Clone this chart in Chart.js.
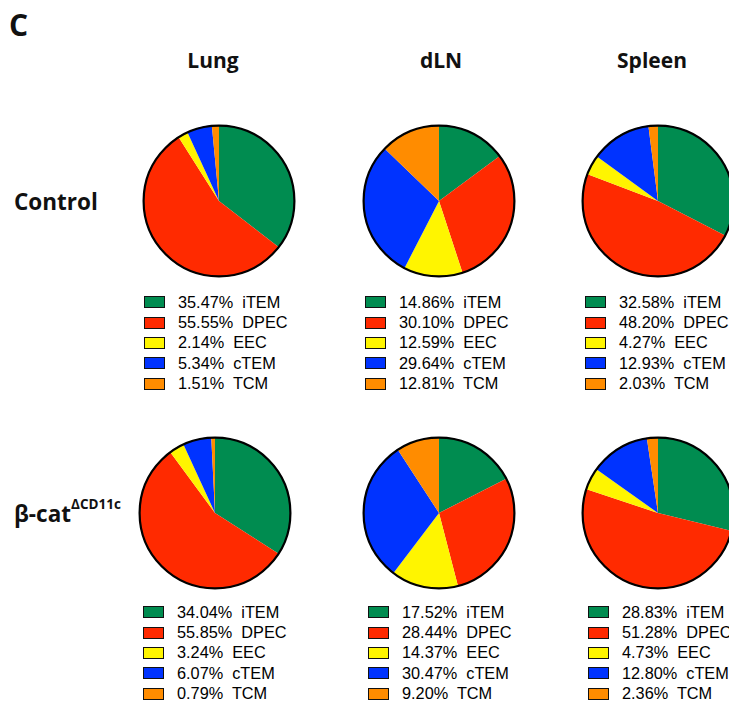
<!DOCTYPE html>
<html>
<head>
<meta charset="utf-8">
<script src="https://cdn.jsdelivr.net/npm/chart.js@4"></script>
<style>
    html, body { margin: 0; padding: 0; background: #fff; }
    body { width: 729px; height: 706px; position: relative; overflow: hidden; }
    .head { position: absolute; font-family: "Open Sans", "Noto Sans", sans-serif; font-weight: 700; color: #111; white-space: nowrap; }
    .panel { position: absolute; font-size: 30px; left: 9px; top: 4px; }
    .tissue { font-size: 21px; transform: translateX(-50%); top: 46px; }
    .group { font-size: 22.5px; left: 14px; }
    .group sup { font-size: 13.5px; position: relative; top: -5px; }
    canvas.pie { position: absolute; }
    .legend { position: absolute; font-family: "Liberation Sans", Arial, sans-serif; font-size: 16.3px; color: #000; }
    .legend .row { height: 20.4px; display: flex; align-items: center; white-space: pre; }
    .legend .box { width: 19px; height: 10px; border: 1.6px solid #111; margin-right: 13px; }
</style>
</head>
<body>
<div class="head panel">C</div>

<script>
    // Kategorien und Farben
    const categories = ['iTEM', 'DPEC', 'EEC', 'cTEM', 'TCM'];
    const colors = ['#008C50', '#FF2A00', '#FFF500', '#0033FF', '#FF8C00'];
    const tissues = ['Lung', 'dLN', 'Spleen'];
    const groups = ['Control', 'β-cat'];

    // Werte in Prozent (Reihenfolge wie categories)
    const controlLung = [35.47, 55.55, 2.14, 5.34, 1.51];
    const controlDLN = [14.86, 30.10, 12.59, 29.64, 12.81];
    const controlSpleen = [32.58, 48.20, 4.27, 12.93, 2.03];
    const betaLung = [34.04, 55.85, 3.24, 6.07, 0.79];
    const betaDLN = [17.52, 28.44, 14.37, 30.47, 9.20];
    const betaSpleen = [28.83, 51.28, 4.73, 12.80, 2.36];

    const pies = [
        [controlLung, controlDLN, controlSpleen],
        [betaLung, betaDLN, betaSpleen]
    ];

    // Layout (Pixel)
    const pieCenterX = [[218.5, 438.5, 658], [215, 438.5, 658]];
    const pieCenterY = [201, 513];
    const legendX = [[144, 365, 585], [143, 368, 588]];
    const legendY = [292, 602];
    const tissueX = [213, 441, 652];
    const groupY = [186, 498];
    const canvasSize = 156;

    // Aussenring zeichnen (nur Kreis, keine Trennlinien)
    const outlinePlugin = {
        id: 'outline',
        afterDatasetsDraw(chart) {
            const arc = chart.getDatasetMeta(0).data[0];
            if (!arc) return;
            const ctx = chart.ctx;
            ctx.save();
            ctx.beginPath();
            ctx.arc(arc.x, arc.y, arc.outerRadius - 0.6, 0, Math.PI * 2);
            ctx.lineWidth = 2.2;
            ctx.strokeStyle = '#000';
            ctx.stroke();
            ctx.restore();
        }
    };

    // Spaltenüberschriften
    tissues.forEach((t, i) => {
        const d = document.createElement('div');
        d.className = 'head tissue';
        d.style.left = tissueX[i] + 'px';
        d.textContent = t;
        document.body.appendChild(d);
    });

    // Zeilenbeschriftungen
    groups.forEach((g, r) => {
        const d = document.createElement('div');
        d.className = 'head group';
        d.style.top = groupY[r] + 'px';
        d.innerHTML = r === 1 ? g + '<sup>ΔCD11c</sup>' : g;
        document.body.appendChild(d);
    });

    pies.forEach((row, r) => {
        row.forEach((values, c) => {
            const canvas = document.createElement('canvas');
            canvas.className = 'pie';
            canvas.width = canvasSize;
            canvas.height = canvasSize;
            canvas.style.left = (pieCenterX[r][c] - canvasSize / 2) + 'px';
            canvas.style.top = (pieCenterY[r] - canvasSize / 2) + 'px';
            document.body.appendChild(canvas);

            new Chart(canvas.getContext('2d'), {
                type: 'pie',
                data: {
                    labels: categories,
                    datasets: [{
                        data: values,
                        backgroundColor: colors,
                        borderWidth: 0
                    }]
                },
                options: {
                    responsive: false,
                    animation: false,
                    layout: { padding: 2 },
                    plugins: {
                        legend: { display: false },
                        tooltip: { enabled: false }
                    }
                },
                plugins: [outlinePlugin]
            });

            // Legende unter dem Kuchen
            const legend = document.createElement('div');
            legend.className = 'legend';
            legend.style.left = legendX[r][c] + 'px';
            legend.style.top = legendY[r] + 'px';
            legend.innerHTML = categories.map((cat, i) => `
                <div class="row"><span class="box" style="background:${colors[i]}"></span>${values[i].toFixed(2)}%  ${cat}</div>
            `).join('');
            document.body.appendChild(legend);
        });
    });
</script>
</body>
</html>
